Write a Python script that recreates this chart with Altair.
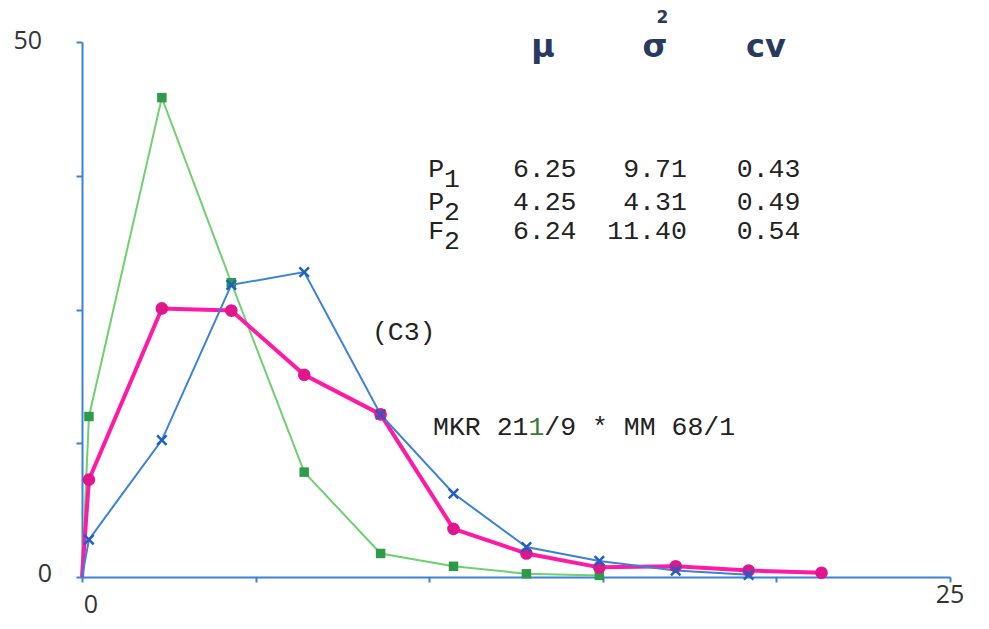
import altair as alt
import pandas as pd

# ---- data ----
x_vals = [0, 0.2, 2.3, 4.3, 6.4, 8.6, 10.7, 12.8, 14.9, 17.1, 19.2, 21.3]
p2_vals = [0, 15.0, 44.8, 27.5, 9.8, 2.2, 1.0, 0.3, 0.15]               # green squares
p1_vals = [0, 3.5, 12.8, 27.3, 28.5, 15.2, 7.8, 2.8, 1.5, 0.6, 0.2]      # blue crosses
f2_vals = [0, 9.1, 25.1, 24.9, 18.9, 15.2, 4.5, 2.2, 0.9, 1.0, 0.6, 0.4] # pink dots

x_ticks = [0, 5, 10, 15, 20, 25]
y_ticks = [0, 12.5, 25, 37.5, 50]
x_tick_labels = [0, 25]
y_tick_labels = [0, 50]

row_names = ["P", "P", "F"]
row_subs = ["1", "2", "2"]
mu_vals = ["6.25", "4.25", "6.24"]
var_vals = ["9.71", "4.31", "11.40"]
cv_vals = ["0.43", "0.49", "0.54"]
row_y = [37.4, 34.3, 31.6]

BLUE = "#3b82d6"
GREEN_L = "#6fd06f"
GREEN_M = "#2f9a4a"
PINK = "#ff1aa6"
PINK_M = "#e0168c"
BLUE_M = "#1f5fc4"
INK = "#222222"
HEAD = "#2a3a5e"
LAB = "#333333"


def series(vals):
    return pd.DataFrame({"x": x_vals[: len(vals)], "y": vals,
                         "m": [i > 0 for i in range(len(vals))]})


d_p2, d_p1, d_f2 = series(p2_vals), series(p1_vals), series(f2_vals)

xs = alt.Scale(domain=[0, 25], nice=False)
ys = alt.Scale(domain=[0, 50], nice=False)

x_axis = alt.Axis(values=x_ticks, title=None, grid=False, labels=False, tickSize=5,
                  domainColor=BLUE, domainWidth=2, tickColor=BLUE, tickWidth=2)
y_axis = alt.Axis(values=y_ticks, title=None, grid=False, labels=False, tickSize=6,
                  domainColor=BLUE, domainWidth=2, tickColor=BLUE, tickWidth=2)

X = alt.X("x:Q", scale=xs, axis=x_axis)
Y = alt.Y("y:Q", scale=ys, axis=y_axis)
Xn = alt.X("x:Q", scale=xs)
Yn = alt.Y("y:Q", scale=ys)

base_axes = alt.Chart(d_p1).mark_point(opacity=0).encode(x=X, y=Y)

# axis labels drawn as text at the tick values
xl = pd.DataFrame({"x": x_tick_labels, "y": [0, 0], "t": [str(v) for v in x_tick_labels]})
yl = pd.DataFrame({"x": [0, 0], "y": y_tick_labels, "t": [str(v) for v in y_tick_labels]})
xl0 = alt.Chart(xl.iloc[[0]]).mark_text(font="Open Sans", fontSize=25, color=LAB,
                                        align="center", baseline="middle", dx=9, dy=28).encode(
    x=Xn, y=Yn, text="t:N")
xl1 = alt.Chart(xl.iloc[[1]]).mark_text(font="Open Sans", fontSize=25, color=LAB,
                                        align="center", baseline="middle", dx=0, dy=18).encode(
    x=Xn, y=Yn, text="t:N")
yl0 = alt.Chart(yl.iloc[[0]]).mark_text(font="Open Sans", fontSize=25, color=LAB,
                                        align="right", baseline="middle", dx=-30, dy=-3).encode(
    x=Xn, y=Yn, text="t:N")
yl1 = alt.Chart(yl.iloc[[1]]).mark_text(font="Open Sans", fontSize=25, color=LAB,
                                        align="right", baseline="middle", dx=-40, dy=-1).encode(
    x=Xn, y=Yn, text="t:N")

line_g = alt.Chart(d_p2).mark_line(color=GREEN_L, strokeWidth=2).encode(x=Xn, y=Yn)
line_p = alt.Chart(d_f2).mark_line(color=PINK, strokeWidth=4).encode(x=Xn, y=Yn)
line_b = alt.Chart(d_p1).mark_line(color=BLUE, strokeWidth=2).encode(x=Xn, y=Yn)

pt_g = alt.Chart(d_p2).transform_filter("datum.m").mark_point(
    shape="square", filled=True, color=GREEN_M, size=90, opacity=1).encode(x=Xn, y=Yn)
pt_p = alt.Chart(d_f2).transform_filter("datum.m").mark_point(
    shape="circle", filled=True, color=PINK_M, size=160, opacity=1).encode(x=Xn, y=Yn)
pt_b = alt.Chart(d_p1).transform_filter("datum.m").mark_point(
    shape="M-1,-1L1,1M-1,1L1,-1", filled=False, color=BLUE_M, strokeWidth=2.5,
    size=90, opacity=1).encode(x=Xn, y=Yn)

# ---- header of the table ----
head = pd.DataFrame({"x": [13.28, 16.5, 19.7], "y": [48.6, 48.6, 48.6],
                     "t": ["μ", "σ", "cv"]})
head_t = alt.Chart(head).mark_text(font="DejaVu Sans", fontSize=32, fontWeight="bold",
                                   color=HEAD, align="center", baseline="alphabetic").encode(
    x=Xn, y=Yn, text="t:N")
sup = pd.DataFrame({"x": [16.72], "y": [51.8], "t": ["2"]})
sup_t = alt.Chart(sup).mark_text(font="DejaVu Sans", fontSize=17, fontWeight="bold",
                                 color=HEAD, align="center", baseline="alphabetic").encode(
    x=Xn, y=Yn, text="t:N")

MONO = "Liberation Mono"
FS = 26.5
cw = 0.6 * FS / (868 / 25)   # one monospace character in x data units

tbl_name = pd.DataFrame({"x": [9.97] * 3, "y": row_y, "t": row_names})
tbl_sub = pd.DataFrame({"x": [9.97 + cw] * 3, "y": [v - 0.95 for v in row_y], "t": row_subs})
tbl_mu = pd.DataFrame({"x": [12.41] * 3, "y": row_y, "t": mu_vals})
tbl_var = pd.DataFrame({"x": [17.42] * 3, "y": row_y, "t": var_vals})
tbl_cv = pd.DataFrame({"x": [18.86] * 3, "y": row_y, "t": cv_vals})


def txt(df, align="left", color=INK):
    return alt.Chart(df).mark_text(font=MONO, fontSize=FS, color=color, align=align,
                                   baseline="alphabetic").encode(x=Xn, y=Yn, text="t:N")


lx = 10.11
labels = pd.DataFrame({"x": [8.35, lx, lx + 7 * cw], "y": [22.15, 13.27, 13.27],
                       "t": ["(C3)", "MKR 21", "/9 * MM 68/1"]})
green_one = pd.DataFrame({"x": [lx + 6 * cw], "y": [13.27], "t": ["1"]})

chart = alt.layer(
    base_axes, line_g, line_p, line_b, pt_g, pt_p, pt_b,
    xl0, xl1, yl0, yl1,
    head_t, sup_t,
    txt(tbl_name), txt(tbl_sub), txt(tbl_mu), txt(tbl_var, "right"), txt(tbl_cv),
    txt(labels), txt(green_one, color="#3c7a3c"),
).properties(
    width=868, height=535,
    background="white",
    autosize=alt.AutoSizeParams(type="none"),
    padding={"left": 74, "top": 34, "right": 31, "bottom": 44},
).configure_view(stroke=None)

chart.save("out.html", embed_options={"renderer": "svg", "actions": False})
